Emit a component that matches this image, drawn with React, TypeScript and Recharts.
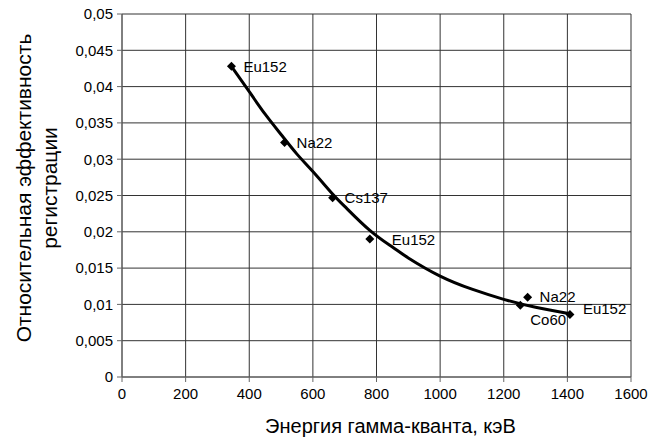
import React from "react";
import {
  ComposedChart, Line, Scatter, XAxis, YAxis, CartesianGrid, LabelList, Label,
} from "recharts";

// измеренные точки
const sourceNames = ["Eu152", "Na22", "Cs137", "Eu152", "Co60", "Na22", "Eu152"];
const pointEnergy = [344, 511, 662, 779, 1252, 1275, 1408];
const pointEff = [0.0428, 0.0323, 0.0247, 0.019, 0.0099, 0.011, 0.0086];

// аппроксимирующая кривая
const curveEnergy = [344, 400, 450, 500, 550, 600, 662, 700, 779, 850, 900, 1000, 1100, 1200, 1300, 1408];
const curveEff = [0.0428, 0.0393, 0.0362, 0.0334, 0.0307, 0.0283, 0.0252, 0.0235, 0.0202, 0.0179, 0.0164, 0.0139, 0.0121, 0.0107, 0.0096, 0.0087];

const xTicks = [0, 200, 400, 600, 800, 1000, 1200, 1400, 1600];
const yTicks = [0, 0.005, 0.01, 0.015, 0.02, 0.025, 0.03, 0.035, 0.04, 0.045, 0.05];

// смещения подписей
const labelDx = [12, 12, 12, 22, 10, 12, 13];
const labelDy = [0, 0, 0, 0, 14, -1, -6];

const points = sourceNames.map((name, i) => ({
  x: pointEnergy[i], y: pointEff[i], name, dx: labelDx[i], dy: labelDy[i],
}));
const curve = curveEnergy.map((x, i) => ({ x, y: curveEff[i] }));

const font = "'Liberation Sans', Arial, sans-serif";

const Diamond = (props: any) => {
  const { cx, cy } = props;
  const r = 4.5;
  return <polygon points={`${cx},${cy - r} ${cx + r},${cy} ${cx},${cy + r} ${cx - r},${cy}`} fill="#000" />;
};

const PointLabel = (props: any) => {
  const { x, y, width, height, index } = props;
  const p = points[index];
  const cx = x + width / 2;
  const cy = y + height / 2;
  return (
    <text x={cx + p.dx} y={cy + p.dy} dominantBaseline="central" fontSize={15} fontFamily={font} fill="#000">
      {p.name}
    </text>
  );
};

const YTitle = () => {
  const cy = 188;
  return (
    <g fontFamily={font} fontSize={21} fill="#000">
      <text x={23} y={cy} transform={`rotate(-90 23 ${cy})`} textAnchor="middle" dominantBaseline="central">
        Относительная эффективность
      </text>
      <text x={49} y={cy} transform={`rotate(-90 49 ${cy})`} textAnchor="middle" dominantBaseline="central">
        регистрации
      </text>
    </g>
  );
};

const XTitle = (props: any) => {
  const vb = props.viewBox;
  const cx = vb.x + vb.width / 2 + 14;
  return (
    <text x={cx} y={426} textAnchor="middle" dominantBaseline="central" fontFamily={font} fontSize={20} fill="#000">
      Энергия гамма-кванта, кэВ
    </text>
  );
};

export default function App() {
  return (
    <div style={{ position: "fixed", left: 0, top: 0, width: 660, height: 443, background: "#fff" }}>
      <ComposedChart width={660} height={443} margin={{ top: 14, right: 29, bottom: 36, left: 0 }}>
        <CartesianGrid stroke="#333" strokeWidth={1} />
        <XAxis
          type="number"
          dataKey="x"
          domain={[0, 1600]}
          ticks={xTicks}
          height={30}
          allowDataOverflow
          stroke="#666"
          tickSize={5}
          tick={{ fill: "#000", fontSize: 15, fontFamily: font }}
          tickMargin={6}
        >
          <Label content={<XTitle />} />
        </XAxis>
        <YAxis
          type="number"
          dataKey="y"
          domain={[0, 0.05]}
          ticks={yTicks}
          width={122}
          stroke="#666"
          tickSize={5}
          tick={{ fill: "#000", fontSize: 15, fontFamily: font }}
          tickFormatter={(v: number) => String(v).replace(".", ",")}
          tickMargin={4}
        >
          <Label content={<YTitle />} />
        </YAxis>
        <Line data={curve} dataKey="y" type="natural" stroke="#000" strokeWidth={3} dot={false} isAnimationActive={false} />
        <Scatter data={points} dataKey="y" shape={<Diamond />} isAnimationActive={false}>
          <LabelList dataKey="name" content={<PointLabel />} />
        </Scatter>
      </ComposedChart>
    </div>
  );
}
